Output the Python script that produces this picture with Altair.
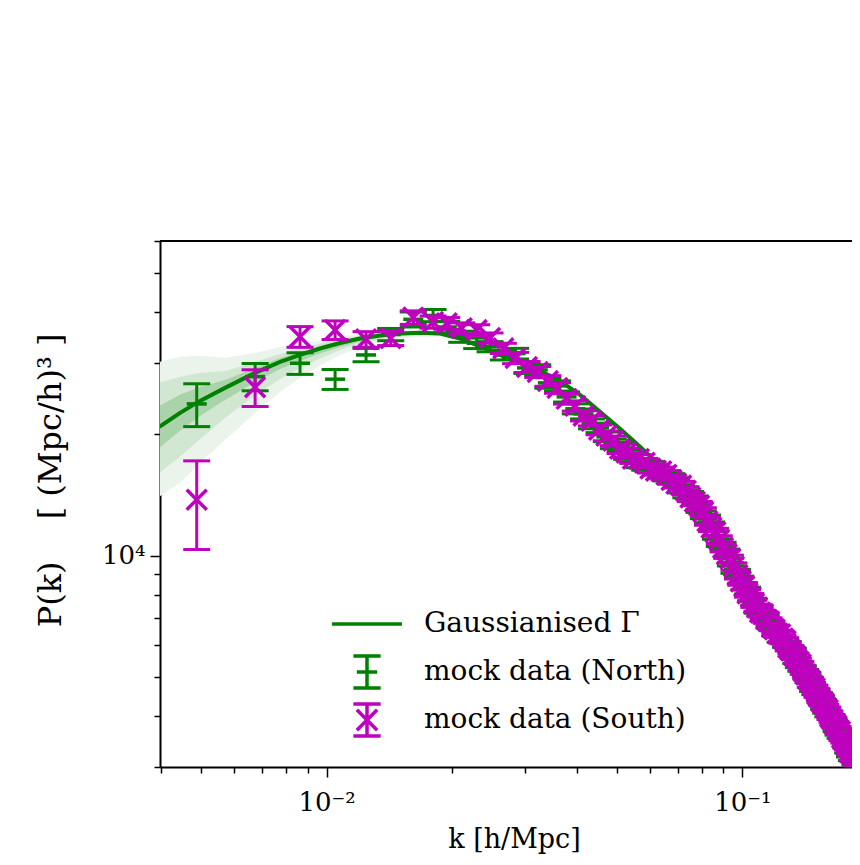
import altair as alt
import pandas as pd

GREEN = "#008000"
MAGENTA = "#bf00bf"
FONT = "DejaVu Serif"

# ---------------- model curve ("Gaussianised Gamma") ----------------
model_k = [0.00396, 0.004441, 0.004961, 0.005697, 0.006726, 0.007727, 0.008630, 0.009641,
           0.01077, 0.01203, 0.01344, 0.01502, 0.01677, 0.01874, 0.02093, 0.02339, 0.02613,
           0.02919, 0.03260, 0.03642, 0.04069, 0.04546, 0.05078, 0.05673, 0.06337, 0.07079,
           0.07909, 0.08835, 0.09868, 0.1102, 0.1232, 0.1376, 0.1537, 0.1717, 0.1918, 0.2143]
model_P = [20823, 22547, 24136, 25992, 28303, 30131, 31354, 32531, 33569, 34437, 35030, 35435,
           35575, 35435, 34437, 32908, 31354, 29956, 28626, 27049, 24975, 22676, 20588, 18584,
           16681, 14806, 12990, 11079, 9234, 7611, 6493, 5474, 4537, 3698, 2996, 2427]

# ---------------- credible bands around the model (low k) ----------------
band_k = [0.00396, 0.004441, 0.004961, 0.005697, 0.006726, 0.007727, 0.008630, 0.009641,
          0.01077, 0.01203, 0.01344, 0.01502, 0.01677, 0.01874, 0.02093]
inner_hi = [23469, 24981, 26138, 27202, 29119, 30824, 31893, 32997, 33953, 34831, 35330, 35637, 35778, 35637, 34537]
inner_lo = [18476, 20350, 22160, 24276, 26890, 28956, 30303, 31619, 32814, 33855, 34535, 35035, 35273, 35234, 34337]
mid_hi = [26756, 27678, 28312, 28634, 30131, 31534, 32442, 33469, 34341, 35029, 35532, 35840, 35982, 35738, 34633]
mid_lo = [16021, 17547, 19440, 21907, 24970, 27350, 29118, 30732, 32260, 33472, 34242, 34836, 35073, 35035, 34242]
outer_hi = [30137, 31013, 31191, 30839, 31718, 32817, 33379, 34045, 34734, 35430, 35836, 36044, 36084, 35840, 34732]
outer_lo = [13984, 15141, 16965, 19327, 22538, 25396, 27504, 29529, 31353, 32718, 33855, 34442, 34775, 34836, 34145]

# ---------------- mock data (k bins shared by North and South) ----------------
k_bins = [0.00487, 0.00673, 0.00863, 0.01048, 0.01244, 0.01426, 0.01616, 0.01803, 0.01945,
          0.02113, 0.02296, 0.02472, 0.02661,
          0.02847, 0.03033, 0.03219, 0.03405, 0.03591, 0.03777, 0.03963, 0.04149, 0.04335,
          0.04521, 0.04707, 0.04893, 0.05079, 0.05265, 0.05451,
          0.05637, 0.05823, 0.06009, 0.06195, 0.06381, 0.06567, 0.06753, 0.06939, 0.07125,
          0.07311, 0.07497, 0.07683, 0.07869, 0.08055, 0.08241, 0.08427, 0.08613, 0.08799,
          0.08985, 0.09171, 0.09357, 0.09543, 0.09729, 0.09915, 0.10101, 0.10287,
          0.10473, 0.10659, 0.10845, 0.11031, 0.11217, 0.11403, 0.11589, 0.11775, 0.11961,
          0.12147, 0.12333, 0.12519, 0.12705, 0.12891, 0.13077, 0.13263, 0.13449, 0.13635,
          0.13821, 0.14007, 0.14193, 0.14379, 0.14565, 0.14751, 0.14937, 0.15123, 0.15309,
          0.15495, 0.15681, 0.15867, 0.16053, 0.16239, 0.16425, 0.16611, 0.16797, 0.16983,
          0.17169, 0.17355, 0.17541, 0.17727, 0.17913, 0.18099, 0.18285, 0.18471, 0.18657]

north_P = [23727, 27716, 29908, 27314, 31354, 35232, 38409, 39252, 36762, 34795, 33513, 32874, 31354,
           31600, 29120, 28792, 26740, 26287, 24694, 23072, 22415, 21180, 20703, 19671, 18903, 18583, 17759, 17456,
           16930, 16681, 16700, 16399, 15920, 15670, 15590, 15229, 14640, 14226, 14100, 13747, 13070,
           12625, 12330, 11859, 11220, 10767, 10570, 10172, 9630, 9234, 9060, 8724, 8410, 8196,
           7860, 7690, 7356, 7290, 7090, 7029, 6790, 6690, 6455, 6400, 6220, 6168, 6040, 6020, 5893,
           5760, 5510, 5381, 5270, 5250, 5141, 5030, 4810, 4694, 4610, 4600, 4511, 4420, 4240, 4143,
           4060, 4060, 3981, 3900, 3740, 3656, 3590, 3600, 3533, 3460, 3305, 3226, 3160, 3140, 3082]
north_err = [2880, 2150, 1840, 1550, 1190, 1230, 1640, 1360, 1200, 1100, 1000, 950, 880,
             960, 900, 860, 800, 760, 710, 660, 630, 590, 560, 540, 510, 480, 460, 440,
             430, 420, 405, 390, 380, 370, 360, 350, 340, 330, 315, 300, 290, 280, 268, 255,
             245, 235, 222, 210, 202, 195, 185, 175, 168, 160,
             155, 151, 148, 142, 136, 132, 128, 125, 122, 120, 117, 115, 111, 108, 105, 102,
             100, 98, 95, 92, 90, 88, 85, 83, 81, 79, 77, 75, 72, 70, 68, 66, 65, 63, 61, 60,
             58, 57, 55, 54, 53, 51, 49, 48, 47]

south_P = [13752, 26095, 34795, 36144, 34277, 34475, 38810, 37830, 37550, 36490, 36140, 34540, 32560,
           30824, 29286, 28465, 27046, 25991, 24415, 23461, 22168, 21544, 20470, 19784, 19229, 18375, 17960, 17358,
           17330, 16968, 16420, 16214, 16160, 15849, 15380, 15058, 14910, 14473, 13920, 13594, 13310,
           12842, 12160, 11725, 11430, 10952, 10440, 10057, 9820, 9394, 8940, 8625, 8400, 8057,
           7900, 7600, 7439, 7230, 7170, 6950, 6880, 6650, 6567, 6420, 6390, 6238, 6150, 5920, 5827,
           5680, 5630, 5474, 5380, 5180, 5083, 4950, 4910, 4775, 4700, 4540, 4461, 4350, 4320, 4213,
           4150, 4000, 3936, 3840, 3810, 3719, 3670, 3545, 3493, 3400, 3370, 3281, 3245, 3150, 3117]
south_err = [3400, 2720, 2050, 1915, 1520, 1400, 1500, 1320, 1250, 1150, 1100, 1000, 950,
             990, 920, 880, 820, 780, 720, 680, 640, 610, 570, 550, 520, 490, 470, 450,
             440, 430, 410, 400, 390, 380, 370, 360, 350, 340, 325, 310, 300, 290, 275, 260,
             250, 240, 228, 215, 208, 200, 190, 180, 172, 165,
             160, 155, 150, 145, 140, 135, 132, 128, 125, 122, 120, 118, 114, 110, 108, 104,
             102, 100, 97, 94, 92, 90, 88, 85, 83, 80, 78, 76, 74, 72, 70, 68, 66, 64, 63, 61,
             60, 58, 56, 55, 54, 52, 51, 49, 48]

legend_labels = ["Gaussianised Γ", "mock data (North)", "mock data (South)"]

x_ticks = [0.004, 0.005, 0.006, 0.007, 0.008, 0.009, 0.01, 0.02, 0.03, 0.04, 0.05, 0.06,
           0.07, 0.08, 0.09, 0.1]
y_ticks = [3000, 4000, 5000, 6000, 7000, 8000, 9000, 10000, 20000, 30000, 40000, 50000, 60000]

# ---------------- frames ----------------
model_df = pd.DataFrame({"k": model_k, "P": model_P})
band_df = pd.DataFrame({"k": band_k, "inner_hi": inner_hi, "inner_lo": inner_lo,
                        "mid_hi": mid_hi, "mid_lo": mid_lo,
                        "outer_hi": outer_hi, "outer_lo": outer_lo})
north_df = pd.DataFrame({"k": k_bins, "P": north_P, "err": north_err})
north_df["lo"] = north_df["P"] - north_df["err"]
north_df["hi"] = north_df["P"] + north_df["err"]
south_df = pd.DataFrame({"k": k_bins, "P": south_P, "err": south_err})
south_df["lo"] = south_df["P"] - south_df["err"]
south_df["hi"] = south_df["P"] + south_df["err"]
legend_df = pd.DataFrame({"series": legend_labels})

PLOT_W, PLOT_H = 692, 526

xscale = alt.Scale(type="log", domain=[0.003974, 0.1835], nice=False)
yscale = alt.Scale(type="log", domain=[3000, 60000], nice=False)

x_axis = alt.Axis(
    values=x_ticks,
    labelExpr="datum.value == 0.01 ? '10⁻²' : (datum.value == 0.1 ? '10⁻¹' : '')",
    tickSize={"condition": {"test": "datum.value == 0.01 || datum.value == 0.1", "value": 10}, "value": 6},
    tickWidth=1.5, tickColor="black", domainColor="black", domainWidth=2, grid=False,
    labelFont=FONT, labelFontSize=26, labelColor="black", labelPadding=12,
    labelFlush=False, labelOverlap=False,
    title="k  [h/Mpc]", titleFont=FONT, titleFontSize=27, titleFontWeight="normal",
    titleColor="black", titleX=354, titleY=72, titleBaseline="middle",
)
y_axis = alt.Axis(
    values=y_ticks,
    labelExpr="datum.value == 10000 ? '10⁴' : ''",
    tickSize={"condition": {"test": "datum.value == 10000", "value": 10}, "value": 6},
    tickWidth=1.5, tickColor="black", domainColor="black", domainWidth=2, grid=False,
    labelFont=FONT, labelFontSize=26, labelColor="black", labelPadding=5,
    labelFlush=False, labelOverlap=False,
    title="P(k)\u2003 [ (Mpc/h)³ ]", titleFont=FONT, titleFontSize=32, titleFontWeight="normal",
    titleColor="black", titleX=-110, titleY=239, titleAngle=270, titleBaseline="middle",
    titleAlign="center",
)


def X():
    return alt.X("k:Q", scale=xscale, axis=x_axis)


def Y(field):
    return alt.Y(f"{field}:Q", scale=yscale, axis=y_axis)


layers = []

# bands
for hi, lo, col in [("outer_hi", "outer_lo", "#eaf4ea"),
                    ("mid_hi", "mid_lo", "#d1e7d1"),
                    ("inner_hi", "inner_lo", "#a9d3a9")]:
    layers.append(
        alt.Chart(band_df).mark_area(color=col, opacity=1, clip=True).encode(
            x=X(), y=Y(hi), y2=alt.Y2(f"{lo}:Q"))
    )

# model line
layers.append(
    alt.Chart(model_df).mark_line(color=GREEN, strokeWidth=4, clip=True).encode(x=X(), y=Y("P"))
)

CAP = "M-1,0L1,0"
XMARK = "M-1,-1L1,1M-1,1L1,-1"


def series_layers(df, color, marker_shape):
    out = []
    out.append(alt.Chart(df).mark_rule(color=color, strokeWidth=3, clip=True).encode(
        x=X(), y=Y("lo"), y2=alt.Y2("hi:Q")))
    for fld in ["lo", "hi"]:
        out.append(alt.Chart(df).mark_point(shape=CAP, size=729, filled=False, strokeWidth=3,
                                            color=color, opacity=1, clip=True).encode(
            x=X(), y=Y(fld)))
    out.append(alt.Chart(df).mark_point(shape=marker_shape, size=400, filled=False, strokeWidth=3.5,
                                        color=color, opacity=1, clip=True).encode(
        x=X(), y=Y("P")))
    return out


layers += series_layers(north_df, GREEN, CAP)
layers += series_layers(south_df, MAGENTA, XMARK)

# top spine
layers.append(
    alt.Chart(pd.DataFrame({"edge": [0]})).mark_rule(color="black", strokeWidth=2).encode(
        x=alt.value(0), x2=alt.value(PLOT_W), y=alt.value(0))
)

# legend (drawn by Vega's own legend)
leg_line = "M-1,0L1,0"
leg_north = "M-0.39,-0.46L0.39,-0.46M0,-0.46L0,0.46M-0.39,0.46L0.39,0.46M-0.29,0L0.29,0"
leg_south = ("M-0.39,-0.46L0.39,-0.46M0,-0.46L0,0.46M-0.39,0.46L0.39,0.46"
             "M-0.29,-0.29L0.29,0.29M-0.29,0.29L0.29,-0.29")
legend = alt.Legend(
    title=None, orient="none", legendX=170, legendY=359, padding=0, rowPadding=0,
    clipHeight=48, symbolSize=4900, symbolStrokeWidth=3.5, symbolOpacity=1,
    labelFont=FONT, labelFontSize=28, labelColor="black", labelOffset=20, labelLimit=600,
)
layers.append(
    alt.Chart(legend_df).mark_point(filled=False, opacity=0, strokeWidth=3.5).encode(
        color=alt.Color("series:N", scale=alt.Scale(domain=legend_labels,
                                                    range=[GREEN, GREEN, MAGENTA]), legend=legend),
        shape=alt.Shape("series:N", scale=alt.Scale(domain=legend_labels,
                                                    range=[leg_line, leg_north, leg_south]), legend=legend),
    )
)

chart = alt.layer(*layers).properties(
    width=PLOT_W, height=PLOT_H,
    autosize=alt.AutoSizeParams(type="none"),
    padding={"left": 152, "top": 233, "right": 0, "bottom": 89},
    background="white",
).configure_view(stroke=None)

chart.save("out.html", embed_options={"renderer": "svg", "actions": False})
